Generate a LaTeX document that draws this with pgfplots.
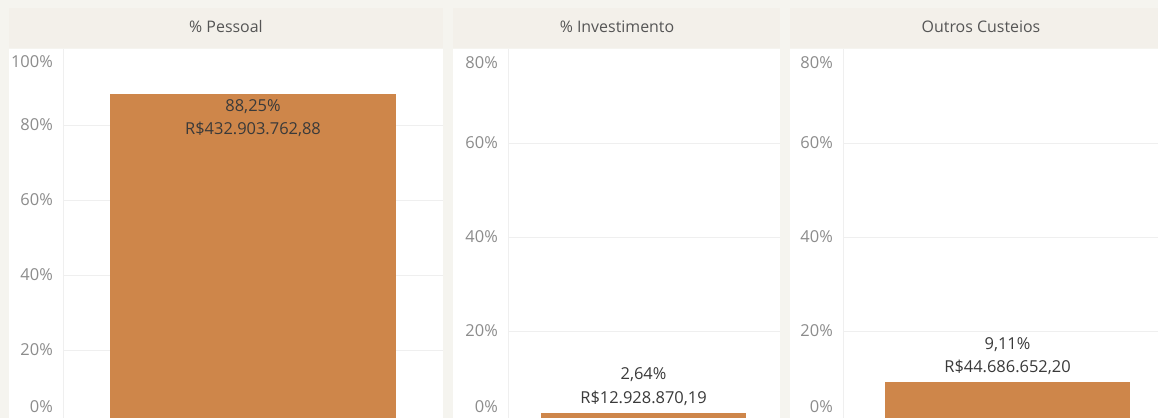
\documentclass[border=0pt]{standalone}
\usepackage{pgfplots}
\pgfplotsset{compat=1.18}
\usepackage{fontspec}
\setmainfont{Open Sans}
\definecolor{bgc}{HTML}{F5F4EF}
\definecolor{hdr}{HTML}{F3F0EA}
\definecolor{barc}{HTML}{CE864A}
\definecolor{tickc}{HTML}{8C8C8C}
\definecolor{txtc}{HTML}{3A3A3A}
\definecolor{titc}{HTML}{555555}
\definecolor{gridc}{HTML}{EFEFEF}
\pgfplotsset{
  panel/.style={
    scale only axis, height=369bp, anchor=south west,
    axis x line=none, axis y line*=left,
    axis line style={draw=gridc},
    major tick length=0pt,
    ymajorgrids, grid style={draw=gridc, line width=0.8bp},
    clip mode=individual,
    /pgf/number format/assume math mode=true,
    yticklabel={\pgfmathprintnumber{\tick}\%},
    yticklabel style={anchor=east, inner sep=0pt, xshift=-10bp, text=tickc, font=\fontsize{16.5}{18}\selectfont},
    extra y tick style={grid=none},
    nodes near coords style={text=txtc, align=center, font=\fontsize{16.5}{23.5}\selectfont, anchor=center},
  }
}
\begin{document}
\begin{tikzpicture}[x=1bp,y=1bp]
\fill[bgc] (0,0) rectangle (1158,418);
% white panels
\fill[white] (9,0) rectangle (443,369);
\fill[white] (453,0) rectangle (780,369);
\fill[white] (790,0) rectangle (1158,369);
% headers
\fill[hdr] (9,370) rectangle (443,410);
\fill[hdr] (453,370) rectangle (780,410);
\fill[hdr] (790,370) rectangle (1158,410);
\node[text=titc, font=\fontsize{16}{18}\selectfont] at (226,391) {\% Pessoal};
\node[text=titc, font=\fontsize{16}{18}\selectfont] at (617,391) {\% Investimento};
\node[text=titc, font=\fontsize{16}{18}\selectfont] at (981,391) {Outros Custeios};

% Panel 1
\begin{axis}[panel, at={(63bp,0bp)}, width=380bp,
  xmin=-190, xmax=190, ymin=1.87, ymax=100.27,
  ytick={20,40,60,80},
  extra y ticks={96.8,5.0}, extra y tick labels={100\%,0\%}]
\addplot[ybar, fill=barc, draw=none, bar width=286bp,
  nodes near coords, point meta=explicit symbolic,
  nodes near coords style={yshift=-24bp}]
  coordinates {(0,88.25) [{88,25\%\\R\$432.903.762,88}]};
\end{axis}

% Panel 2
\begin{axis}[panel, at={(508bp,0bp)}, width=272bp,
  xmin=-135.5, xmax=136.5, ymin=1.49, ymax=80,
  ytick={20,40,60},
  extra y ticks={77.2,4.0}, extra y tick labels={80\%,0\%}]
\addplot[ybar, fill=barc, draw=none, bar width=205bp,
  nodes near coords, point meta=explicit symbolic,
  nodes near coords style={yshift=26bp}]
  coordinates {(0,2.64) [{2,64\%\\R\$12.928.870,19}]};
\end{axis}

% Panel 3
\begin{axis}[panel, at={(843bp,0bp)}, width=315bp,
  xmin=-164.5, xmax=150.5, ymin=1.49, ymax=80,
  ytick={20,40,60},
  extra y ticks={77.2,4.0}, extra y tick labels={80\%,0\%}]
\addplot[ybar, fill=barc, draw=none, bar width=245bp,
  nodes near coords, point meta=explicit symbolic,
  nodes near coords style={yshift=26bp}]
  coordinates {(0,9.11) [{9,11\%\\R\$44.686.652,20}]};
\end{axis}
\pgfresetboundingbox
\useasboundingbox (0,0) rectangle (1158,418);
\end{tikzpicture}
\end{document}
